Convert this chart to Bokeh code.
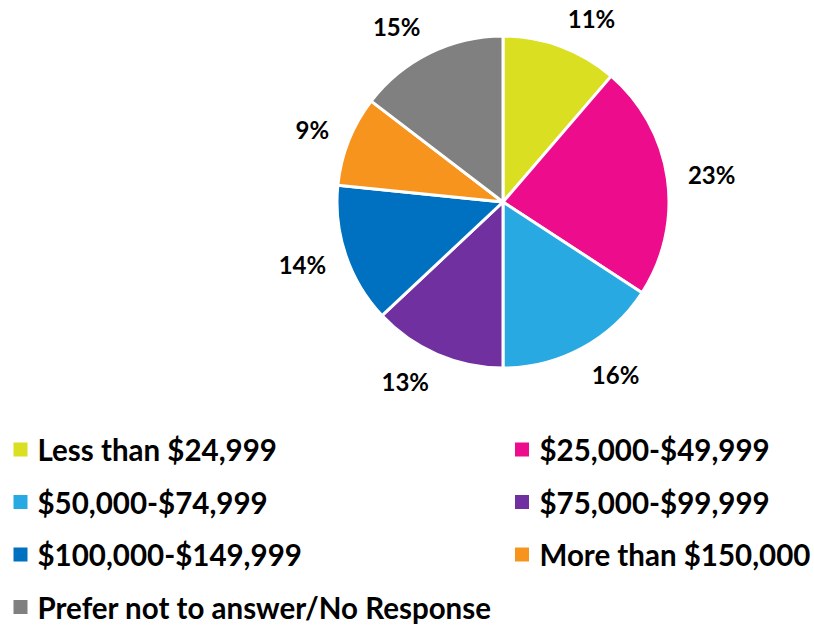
import math
from bokeh.plotting import figure
from bokeh.models import Range1d, ColumnDataSource
from bokeh.core.properties import value
from bokeh.embed import file_html
from bokeh.resources import INLINE

categories = ["Less than $24,999", "$25,000-$49,999", "$50,000-$74,999",
              "$75,000-$99,999", "$100,000-$149,999", "More than $150,000",
              "Prefer not to answer/No Response"]
shares = [11.3, 22.9, 15.8, 13.0, 13.6, 8.8, 14.6]
pct_labels = ["11%", "23%", "16%", "13%", "14%", "9%", "15%"]
colors = ["#DAE021", "#EC0C8C", "#29A9E1", "#7030A0", "#0070C0", "#F7941D", "#808080"]

W, H = 814, 627
p = figure(width=W, height=H, output_backend="svg", toolbar_location=None,
           x_range=Range1d(0, W), y_range=Range1d(0, H), min_border=0,
           x_axis_location=None, y_axis_location=None)
p.grid.visible = False
p.outline_line_color = None
p.background_fill_color = "white"
p.border_fill_color = "white"

cx, cy, r = 502.5, H - 201.5, 166
total = sum(shares)
starts, ends, mids = [], [], []
cum = 0.0
for s in shares:
    a0 = math.pi / 2 - 2 * math.pi * cum / total
    cum += s
    a1 = math.pi / 2 - 2 * math.pi * cum / total
    starts.append(a0)
    ends.append(a1)
    mids.append((a0 + a1) / 2)

src = ColumnDataSource(dict(start=starts, end=ends, color=colors, cat=categories))
p.wedge(x=cx, y=cy, radius=r, start_angle="start", end_angle="end",
        direction="clock", fill_color="color", line_color="white",
        line_width=3, source=src)

# outside-end labels placed off the mid ray of each slice
r0, hh = 187, 9
lxs, lys = [], []
for m, t in zip(mids, pct_labels):
    hw = 0.5 * (13.5 * (len(t) - 1) + 20)
    dx, dy = math.cos(m), math.sin(m)
    lxs.append(cx + r0 * dx + math.copysign(hw, dx))
    lys.append(cy + r0 * dy + hh * dy)
lab = ColumnDataSource(dict(x=lxs, y=lys, t=pct_labels))
p.text(x="x", y="y", text="t", source=lab, text_align="center",
       text_baseline="middle", text_font=value("Lato"), text_font_style="bold",
       text_font_size="24px", text_color="#000000")

# legend (two columns)
col_sq = [20, 521.5]
col_tx = [37, 539]
row0, row_step = 449, 52.5
lx, ly, tx = [], [], []
for i in range(len(categories)):
    c, rw = i % 2, i // 2
    yy = H - (row0 + rw * row_step)
    lx.append(col_sq[c])
    ly.append(yy)
    tx.append(col_tx[c])
leg = ColumnDataSource(dict(sx=lx, sy=ly, tx=tx, cat=categories, color=colors))
p.rect(x="sx", y="sy", width=14, height=14, fill_color="color",
       line_color=None, source=leg)
p.text(x="tx", y="sy", text="cat", source=leg, text_align="left",
       text_baseline="middle", text_font=value("Lato"), text_font_style="bold",
       text_font_size="29.5px", text_color="#000000")

open("out.html", "w").write(file_html(p, INLINE))
